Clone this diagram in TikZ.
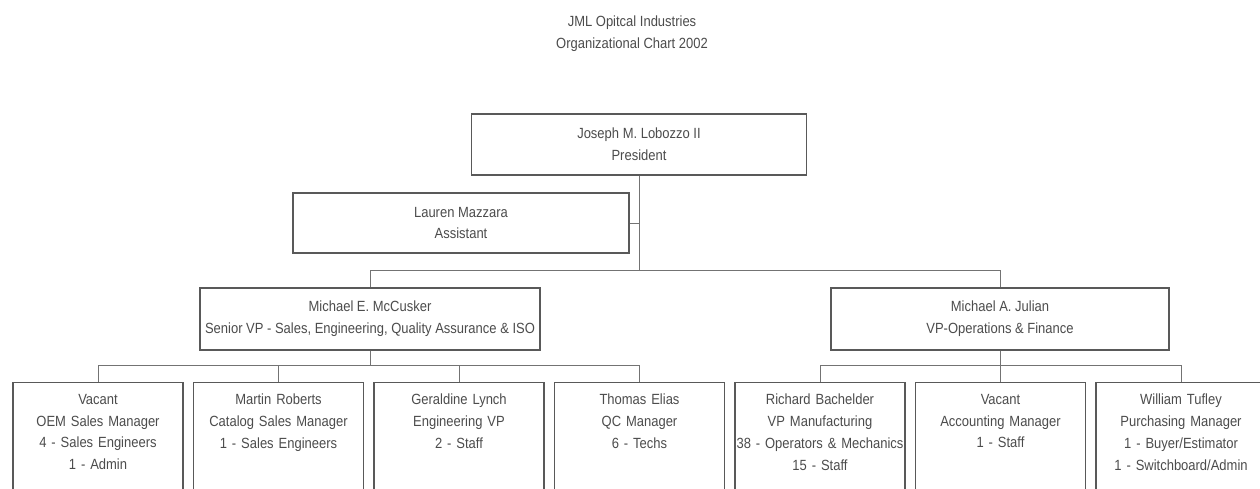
\documentclass[tikz,border=0pt]{standalone}
\usepackage{fontspec}
\setmainfont{Liberation Sans}[FakeStretch=0.88]
\begin{document}
\begin{tikzpicture}[x=0.02cm,y=-0.02cm,
  font=\fontsize{8.4pt}{12.4pt}\selectfont,
  text=black!70,
  box/.style={draw=black!65,line width=0.8pt,align=center,inner sep=2pt},
  topbox/.style={box,minimum width=6.7cm,minimum height=1.22cm},
  staffbox/.style={box,anchor=north,minimum width=3.4cm,text width=3.4cm,inner xsep=0pt,text depth=70pt,inner ysep=6.5pt},
  conn/.style={draw=black!55,line width=0.5pt}]
\clip (0,0) rectangle (1260,488);
\fill[white] (0,0) rectangle (1260,488);

\node[align=center] (title) at (632,34) {JML Opitcal Industries\\Organizational Chart 2002};

\node[topbox] (pres) at (639,144.5) {Joseph M. Lobozzo II\\President};
\node[topbox,minimum width=6.72cm,minimum height=1.2cm] (asst) at (461,223) {Lauren Mazzara\\Assistant};
\node[topbox,minimum width=6.8cm,minimum height=1.24cm] (mcc) at (370,319) {Michael E. McCusker\\Senior VP - Sales, Engineering, Quality Assurance \& ISO};
\node[topbox,minimum width=6.76cm,minimum height=1.24cm] (jul) at (1000,319) {Michael A. Julian\\VP-Operations \& Finance};

\node[staffbox] (oem) at (98,382) {Vacant\\OEM Sales Manager\\4 - Sales Engineers\\1 - Admin};
\node[staffbox] (cat) at (278.5,382) {Martin Roberts\\Catalog Sales Manager\\1 - Sales Engineers};
\node[staffbox] (eng) at (459,382) {Geraldine Lynch\\Engineering VP\\2 - Staff};
\node[staffbox] (qc) at (639.5,382) {Thomas Elias\\QC Manager\\6 - Techs};
\node[staffbox] (mfg) at (820,382) {Richard Bachelder\\VP Manufacturing\\38 - Operators \& Mechanics\\15 - Staff};
\node[staffbox] (acct) at (1000.5,382) {Vacant\\Accounting Manager\\1 - Staff};
\node[staffbox] (pur) at (1181,382) {William Tufley\\Purchasing Manager\\1 - Buyer/Estimator\\1 - Switchboard/Admin};

\coordinate (vpbus) at (0,270);
\coordinate (staffbus) at (0,365);

\path[conn] (asst.east) -- (asst.east -| pres.south);
\path[conn] (pres.south) -- (pres.south |- vpbus) -| (mcc.north);
\path[conn] (pres.south |- vpbus) -| (jul.north);

\path[conn] (mcc.south) -- (mcc.south |- staffbus) -| (oem.north);
\path[conn] (mcc.south |- staffbus) -| (cat.north);
\path[conn] (mcc.south |- staffbus) -| (eng.north);
\path[conn] (mcc.south |- staffbus) -| (qc.north);

\path[conn] (jul.south) -- (jul.south |- staffbus) -| (mfg.north);
\path[conn] (jul.south |- staffbus) -| (acct.north);
\path[conn] (jul.south |- staffbus) -| (pur.north);
\end{tikzpicture}
\end{document}
